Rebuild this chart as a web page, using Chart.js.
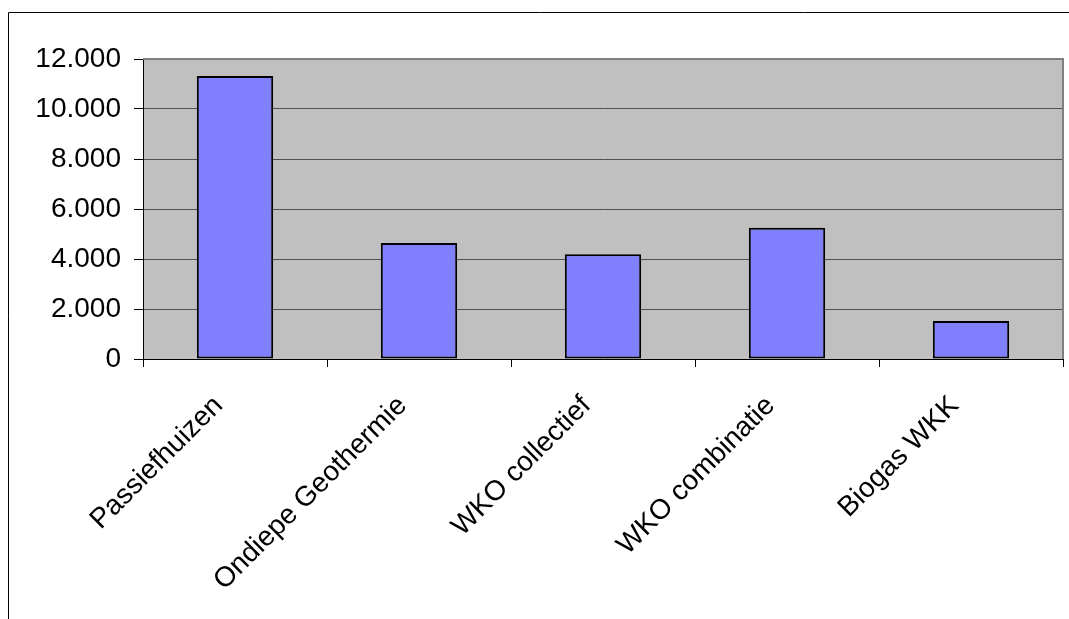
<!DOCTYPE html>
<html>
<head>
<meta charset="utf-8">
<script src="https://cdn.jsdelivr.net/npm/chart.js@4/dist/chart.umd.min.js"></script>
<style>
  html, body { margin: 0; padding: 0; background: #fff; }
  #wrap { width: 1069px; height: 619px; position: relative; }
</style>
</head>
<body>
<div id="wrap"><canvas id="c" width="1069" height="619"></canvas></div>
<script>
const categories = ["Passiefhuizen", "Ondiepe Geothermie", "WKO collectief", "WKO combinatie", "Biogas WKK"];
const values = [11320, 4640, 4190, 5250, 1520];
const yTicks = [0, 2000, 4000, 6000, 8000, 10000, 12000];

function fmt(v) {
  return String(v).replace(/\B(?=(\d{3})+(?!\d))/g, '.');
}

const FONT = "'Liberation Sans', Arial, sans-serif";

const decor = {
  id: 'decor',
  beforeDraw(chart) {
    const { ctx, chartArea: a } = chart;
    ctx.save();
    ctx.fillStyle = '#ffffff';
    ctx.fillRect(0, 0, chart.width, chart.height);
    ctx.fillStyle = '#C0C0C0';
    ctx.fillRect(a.left, a.top, a.right - a.left, a.bottom - a.top);
    ctx.restore();
  },
  afterDraw(chart) {
    const { ctx, chartArea: a } = chart;
    ctx.save();
    ctx.strokeStyle = '#808080';
    ctx.lineWidth = 2;
    ctx.beginPath();
    ctx.moveTo(a.left, a.top);
    ctx.lineTo(a.right, a.top);
    ctx.lineTo(a.right, a.bottom);
    ctx.stroke();
    ctx.strokeStyle = '#000000';
    ctx.lineWidth = 1;
    ctx.beginPath();
    ctx.moveTo(8.5, chart.height + 5);
    ctx.lineTo(8.5, 12.5);
    ctx.lineTo(chart.width + 5, 12.5);
    ctx.stroke();
    ctx.restore();
  }
};

new Chart(document.getElementById('c'), {
  type: 'bar',
  data: {
    labels: categories,
    datasets: [{
      data: values,
      backgroundColor: '#8080FF',
      borderColor: '#000000',
      borderWidth: 2,
      borderSkipped: false,
      categoryPercentage: 1.0,
      barPercentage: 0.415
    }]
  },
  options: {
    responsive: false,
    animation: false,
    devicePixelRatio: 1,
    layout: { padding: { left: 0, top: 59, right: 6, bottom: 0 } },
    plugins: {
      legend: { display: false },
      tooltip: { enabled: false }
    },
    scales: {
      x: {
        afterFit(scale) { scale.height = 260; },
        grid: {
          offset: true,
          drawOnChartArea: false,
          drawTicks: true,
          tickLength: 8,
          color: '#000000',
          lineWidth: 1
        },
        border: { display: true, color: '#000000', width: 1 },
        ticks: {
          minRotation: 45,
          maxRotation: 45,
          autoSkip: false,
          color: '#000000',
          padding: 6,
          font: { family: FONT, size: 28 },
          callback: function (v, i) { return categories[i] + '   '; }
        }
      },
      y: {
        min: 0,
        max: 12000,
        afterFit(scale) { scale.width = 143; },
        afterBuildTicks(scale) { scale.ticks = yTicks.map(v => ({ value: v })); },
        grid: {
          drawOnChartArea: true,
          drawTicks: true,
          tickLength: 9,
          color: '#505050',
          tickColor: '#000000',
          lineWidth: 1
        },
        border: { display: true, color: '#000000', width: 1 },
        ticks: {
          color: '#000000',
          padding: 13,
          font: { family: FONT, size: 28 },
          callback: (v) => fmt(v)
        }
      }
    }
  },
  plugins: [decor]
});
</script>
</body>
</html>
